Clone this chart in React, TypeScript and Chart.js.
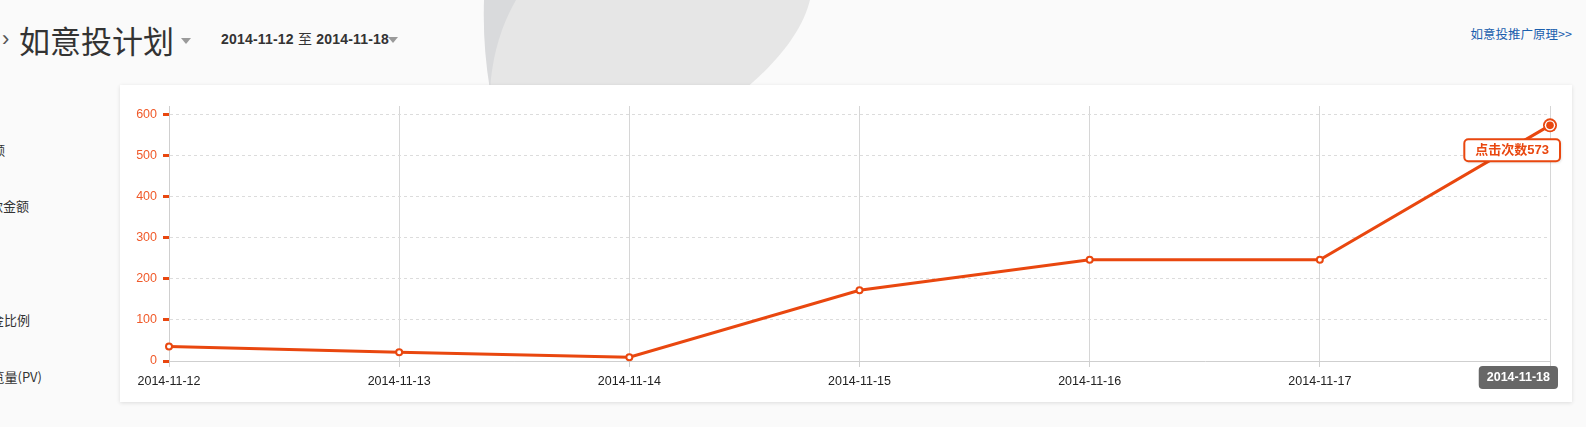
import React, { useEffect, useRef } from "react";
import { Chart, registerables } from "chart.js";

Chart.register(...registerables);

// Daily click counts for the plan, one value per day
const categories = [
  "2014-11-12",
  "2014-11-13",
  "2014-11-14",
  "2014-11-15",
  "2014-11-16",
  "2014-11-17",
  "2014-11-18",
];
const clicks = [35, 21, 9, 172, 246, 246, 573];
const seriesName = "点击次数";
const yTickValues = [0, 100, 200, 300, 400, 500, 600];
const yMax = 620;

const sideLabels = [
  { text: "消耗金额", end: 5, y: 150 },
  { text: "付款金额", end: 29, y: 206 },
  { text: "佣金比例", end: 30, y: 320 },
  { text: "浏览量(PV)", end: 42, y: 377 },
];

const ORANGE = "#e9470f";
const LATIN = "'Liberation Sans', Arial, 'Noto Sans CJK SC', sans-serif";
const CJK = "'Noto Sans CJK SC', 'Liberation Sans', sans-serif";

const highlightPlugin = {
  id: "highlightLast",
  afterDatasetsDraw(chart: any) {
    const ctx = chart.ctx;
    const meta = chart.getDatasetMeta(0);
    const last = meta.data.length - 1;
    const pt = meta.data[last];
    if (!pt) return;
    const { x, y } = pt;

    // hovered point marker
    ctx.save();
    ctx.fillStyle = ORANGE;
    ctx.beginPath();
    ctx.arc(x, y, 7, 0, Math.PI * 2);
    ctx.fill();
    ctx.fillStyle = "#fff";
    ctx.beginPath();
    ctx.arc(x, y, 5.2, 0, Math.PI * 2);
    ctx.fill();
    ctx.fillStyle = ORANGE;
    ctx.beginPath();
    ctx.arc(x, y, 3.8, 0, Math.PI * 2);
    ctx.fill();
    ctx.restore();

    // value tooltip
    const label = seriesName + clicks[last];
    ctx.save();
    ctx.font = `bold 13px ${LATIN}`;
    const tw = ctx.measureText(label).width;
    const bw = tw + 22;
    const bh = 22;
    const bx = x + 10 - bw;
    const by = y + 14;
    ctx.shadowColor = "rgba(0,0,0,0.18)";
    ctx.shadowBlur = 3;
    ctx.shadowOffsetX = 1;
    ctx.shadowOffsetY = 1;
    ctx.fillStyle = "#fff";
    ctx.beginPath();
    ctx.roundRect(bx, by, bw, bh, 4);
    ctx.fill();
    ctx.shadowColor = "transparent";
    ctx.lineWidth = 2;
    ctx.strokeStyle = ORANGE;
    ctx.stroke();
    ctx.fillStyle = ORANGE;
    ctx.textAlign = "center";
    ctx.textBaseline = "middle";
    ctx.fillText(label, bx + bw / 2, by + bh / 2 + 0.5);
    ctx.restore();

    // highlighted category label on the x axis
    const xs = chart.scales.x;
    const tx = xs.getPixelForValue(last);
    const text = categories[last];
    ctx.save();
    ctx.font = `bold 12.5px ${LATIN}`;
    const lw = ctx.measureText(text).width;
    const lbw = lw + 16;
    const lbh = 23;
    const lbx = tx + 8 - lbw;
    const lby = xs.top + 5;
    ctx.fillStyle = "#676767";
    ctx.beginPath();
    ctx.roundRect(lbx, lby, lbw, lbh, 4);
    ctx.fill();
    ctx.fillStyle = "#fff";
    ctx.textAlign = "center";
    ctx.textBaseline = "middle";
    ctx.fillText(text, lbx + lbw / 2, lby + lbh / 2 + 0.5);
    ctx.restore();
  },
};

function ClicksChart() {
  const ref = useRef<HTMLCanvasElement | null>(null);
  useEffect(() => {
    if (!ref.current) return;
    const last = categories.length - 1;
    const chart = new Chart(ref.current, {
      type: "line",
      data: {
        labels: categories,
        datasets: [
          {
            label: seriesName,
            data: clicks,
            borderColor: ORANGE,
            borderWidth: 3,
            tension: 0,
            pointRadius: (c: any) => (c.dataIndex === last ? 0 : 3),
            pointBorderWidth: 2,
            pointBackgroundColor: "#fff",
            pointBorderColor: ORANGE,
            clip: false as any,
          },
        ],
      },
      options: {
        responsive: false,
        animation: false,
        devicePixelRatio: 1,
        layout: { padding: { top: 21, right: 22, bottom: 5, left: 0 } },
        plugins: {
          legend: { display: false },
          tooltip: { enabled: false },
        },
        events: [],
        scales: {
          x: {
            type: "category",
            offset: false,
            grid: {
              color: "#d6d6d6",
              lineWidth: 1,
              tickLength: 6,
              tickColor: "#cfcfcf",
            },
            border: { color: "#cfcfcf" },
            ticks: {
              autoSkip: false,
              maxRotation: 0,
              padding: 7,
              color: (c: any) => (c.index === last ? "rgba(0,0,0,0)" : "#222"),
              font: { family: LATIN, size: 12.5 },
            },
            afterFit: (s: any) => {
              s.paddingLeft = 0;
              s.paddingRight = 0;
              s.height = 36;
            },
          },
          y: {
            min: 0,
            max: yMax,
            afterBuildTicks: (s: any) => {
              s.ticks = yTickValues.map((v) => ({ value: v }));
            },
            grid: {
              color: "#dcdcdc",
              lineWidth: 1,
              tickLength: 6,
              tickColor: ORANGE,
              tickWidth: 3,
            },
            border: { color: "#cfcfcf", dash: [3, 3] },
            ticks: {
              padding: 6,
              color: "#f05a2a",
              font: { family: LATIN, size: 12.5 },
            },
            afterFit: (s: any) => {
              s.width = 49;
              s.paddingTop = 0;
              s.paddingBottom = 0;
            },
          },
        },
      },
      plugins: [highlightPlugin],
    });
    return () => chart.destroy();
  }, []);
  return <canvas ref={ref} width={1452} height={317} style={{ display: "block", width: 1452, height: 317 }} />;
}

function Caret({ left, top }: { left: number; top: number }) {
  return (
    <div
      style={{
        position: "absolute",
        left,
        top,
        width: 0,
        height: 0,
        borderLeft: "5px solid transparent",
        borderRight: "5px solid transparent",
        borderTop: "6px solid #9a9a9a",
      }}
    />
  );
}

export default function App() {
  return (
    <div
      style={{
        position: "absolute",
        left: 0,
        top: 0,
        width: 1586,
        height: 427,
        background: "#fafafa",
        overflow: "hidden",
      }}
    >
      <svg width={1586} height={90} style={{ position: "absolute", left: 0, top: 0 }}>
        <path d="M484,0 C483,30 485,60 490,90 L560,90 L560,0 Z" fill="#d9dadc" />
        <path d="M516,0 C500,28 492,58 490,90 L744,90 C782,58 803,28 810,0 Z" fill="#e6e6e6" />
      </svg>

      <div
        style={{
          position: "absolute",
          left: 2,
          top: 26,
          fontFamily: LATIN,
          fontSize: 22,
          lineHeight: "26px",
          color: "#555",
        }}
      >
        ›
      </div>
      <div
        style={{
          position: "absolute",
          left: 19,
          top: 23,
          fontFamily: CJK,
          fontSize: 31,
          lineHeight: "34px",
          color: "#333",
          whiteSpace: "nowrap",
        }}
      >
        如意投计划
      </div>
      <Caret left={181} top={38} />
      <div
        style={{
          position: "absolute",
          left: 221,
          top: 30,
          fontFamily: LATIN,
          fontWeight: "bold",
          fontSize: 14,
          letterSpacing: "0.2px",
          lineHeight: "17px",
          color: "#333",
          whiteSpace: "nowrap",
        }}
      >
        2014-11-12 <span style={{ fontFamily: CJK, fontWeight: 400 }}>至</span> 2014-11-18
      </div>
      <Caret left={388} top={37} />
      <div
        style={{
          position: "absolute",
          right: 1586 - 1572,
          top: 25,
          fontFamily: CJK,
          fontSize: 12.5,
          lineHeight: "17px",
          color: "#1b5fae",
          whiteSpace: "nowrap",
        }}
      >
        如意投推广原理&gt;&gt;
      </div>

      {sideLabels.map((s) => (
        <div
          key={s.text}
          style={{
            position: "absolute",
            left: 0,
            top: s.y - 9,
            width: s.end,
            height: 18,
            overflow: "hidden",
            display: "flex",
            justifyContent: "flex-end",
          }}
        >
          <span
            style={{
              whiteSpace: "nowrap",
              fontFamily: CJK,
              fontSize: 13,
              lineHeight: "18px",
              color: "#333",
              flexShrink: 0,
            }}
          >
            {s.text}
          </span>
        </div>
      ))}

      <div
        style={{
          position: "absolute",
          left: 120,
          top: 85,
          width: 1452,
          height: 317,
          background: "#fff",
          boxShadow: "0 1px 4px rgba(0,0,0,0.12)",
        }}
      >
        <ClicksChart />
      </div>
    </div>
  );
}
